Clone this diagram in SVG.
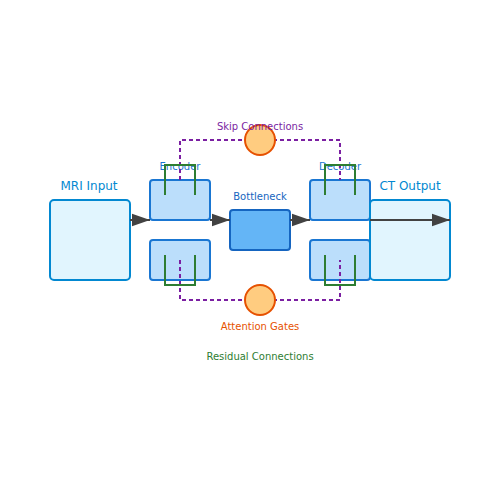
<svg xmlns="http://www.w3.org/2000/svg" width="500" height="500" viewBox="0 0 500 500">
<defs>
<style>
text{font-family:"DejaVu Sans",sans-serif;text-anchor:middle}
.io{fill:#e1f5fe;stroke:#0288d1;stroke-width:2}
.blk{fill:#bbdefb;stroke:#1976d2;stroke-width:2}
.bn{fill:#64b5f6;stroke:#1565c0;stroke-width:2}
.flow{stroke:#424242;stroke-width:2;fill:none}
.skip{stroke:#7b1fa2;stroke-width:2;stroke-dasharray:4 3;fill:none}
.res{stroke:#2e7d32;stroke-width:2;fill:none}
.gate{fill:#ffcc80;stroke:#e65100;stroke-width:2}
</style>
<marker id="ah" viewBox="0 0 10 7" markerWidth="9" markerHeight="7" refX="10" refY="3.5" orient="auto">
<polygon points="0,0 10,3.5 0,7" fill="#424242"/>
</marker>
</defs>
<rect width="500" height="500" fill="#ffffff"/>
<g id="mri-input">
<rect class="io" x="50" y="200" width="80" height="80" rx="4"/>
<text x="89" y="190" font-size="12" fill="#0288d1">MRI Input</text>
</g>
<g id="encoder">
<rect class="blk" x="150" y="180" width="60" height="40" rx="3"/>
<rect class="blk" x="150" y="240" width="60" height="40" rx="3"/>
<text x="180" y="170" font-size="10" fill="#1976d2">Encoder</text>
</g>
<g id="bottleneck">
<rect class="bn" x="230" y="210" width="60" height="40" rx="3"/>
<text x="260" y="200" font-size="10" fill="#1565c0">Bottleneck</text>
</g>
<g id="decoder">
<rect class="blk" x="310" y="180" width="60" height="40" rx="3"/>
<rect class="blk" x="310" y="240" width="60" height="40" rx="3"/>
<text x="340" y="170" font-size="10" fill="#1976d2">Decoder</text>
</g>
<g id="ct-output">
<rect class="io" x="370" y="200" width="80" height="80" rx="4"/>
<text x="410" y="190" font-size="12" fill="#0288d1">CT Output</text>
</g>
<g id="connectors">
<line class="flow" x1="130" y1="220" x2="150" y2="220" marker-end="url(#ah)"/>
<line class="flow" x1="210" y1="220" x2="230" y2="220" marker-end="url(#ah)"/>
<line class="flow" x1="290" y1="220" x2="310" y2="220" marker-end="url(#ah)"/>
<line class="flow" x1="370" y1="220" x2="450" y2="220" marker-end="url(#ah)"/>
<path class="skip" d="M180,180 V140 H340 V180"/>
<path class="skip" d="M180,260 V300 H340 V260"/>
<path class="res" d="M165,195 V165 H195 V195"/>
<path class="res" d="M165,255 V285 H195 V255"/>
<path class="res" d="M325,195 V165 H355 V195"/>
<path class="res" d="M325,255 V285 H355 V255"/>
</g>
<g id="attention-gates">
<circle class="gate" cx="260" cy="140" r="15"/>
<circle class="gate" cx="260" cy="300" r="15"/>
</g>
<g id="labels">
<text x="260" y="130" font-size="10" fill="#7b1fa2">Skip Connections</text>
<text x="260" y="330" font-size="10" fill="#e65100">Attention Gates</text>
<text x="260" y="360" font-size="10" fill="#2e7d32">Residual Connections</text>
</g>
</svg>
